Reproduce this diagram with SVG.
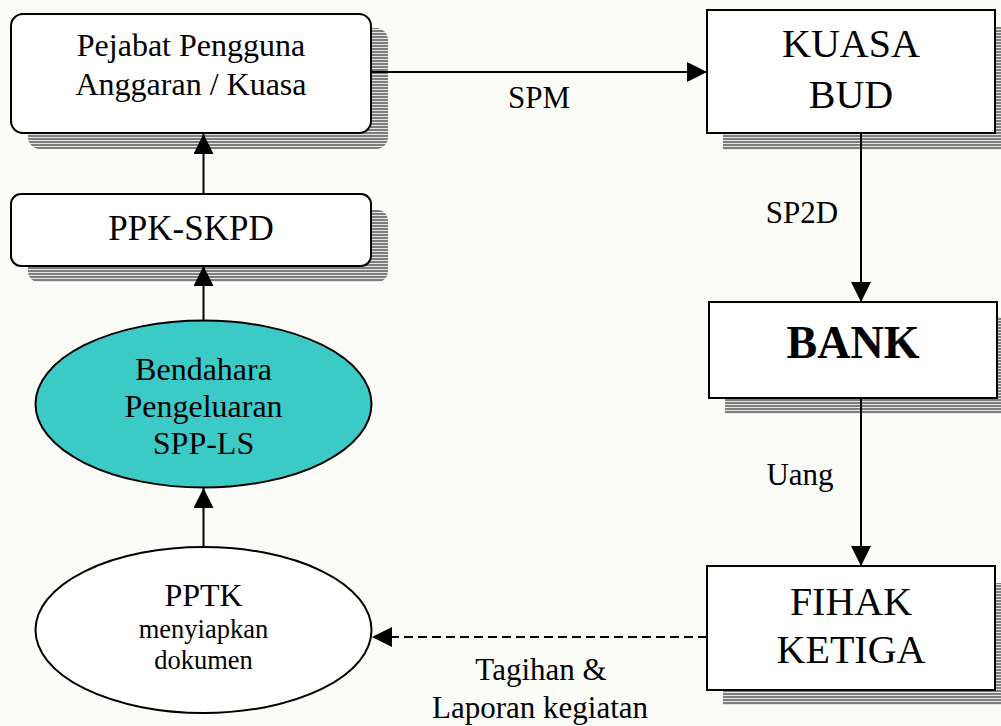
<svg xmlns="http://www.w3.org/2000/svg" width="1001" height="726" viewBox="0 0 1001 726">
<defs>
<pattern id="stripes" patternUnits="userSpaceOnUse" width="6" height="3">
<rect width="6" height="3" fill="#e6e6e6"/>
<rect width="6" height="2" fill="#7d7d7d"/>
</pattern>
<marker id="ah" markerUnits="userSpaceOnUse" markerWidth="22" markerHeight="22" refX="20" refY="10" orient="auto">
<path d="M0,0 L20,10 L0,20 Z" fill="#000"/>
</marker>
<style>
.box{fill:#fff;stroke:#000;stroke-width:2}
.shadow{fill:url(#stripes)}
.t{font-family:"Liberation Serif","Times New Roman",serif;fill:#000;text-anchor:middle}
.c{stroke:#000;stroke-width:2;fill:none}
</style>
</defs>
<rect width="1001" height="726" fill="#fbfcf7"/>

<g id="pejabat">
<rect class="shadow" x="28" y="28" width="360" height="121" rx="12"/>
<rect class="box" x="11" y="14" width="360" height="119" rx="12"/>
<text class="t" x="191" y="56" font-size="32">Pejabat Pengguna</text>
<text class="t" x="191" y="95" font-size="32">Anggaran / Kuasa</text>
</g>

<g id="ppk">
<rect class="shadow" x="28" y="210" width="360" height="72" rx="10"/>
<rect class="box" x="11" y="194" width="360" height="72" rx="10"/>
<text class="t" x="191" y="240" font-size="35">PPK-SKPD</text>
</g>

<g id="bendahara">
<ellipse cx="203.5" cy="404" rx="168" ry="83.5" fill="#3bcac6" stroke="#000" stroke-width="2"/>
<text class="t" x="203.5" y="380" font-size="32">Bendahara</text>
<text class="t" x="203.5" y="417" font-size="32">Pengeluaran</text>
<text class="t" x="203.5" y="454" font-size="32">SPP-LS</text>
</g>

<g id="pptk">
<ellipse cx="203.5" cy="630" rx="168" ry="83" fill="#fff" stroke="#000" stroke-width="2"/>
<text class="t" x="203.5" y="606" font-size="32">PPTK</text>
<text class="t" x="203.5" y="638" font-size="26.5">menyiapkan</text>
<text class="t" x="203.5" y="669" font-size="26.5">dokumen</text>
</g>

<g id="kuasa">
<rect class="shadow" x="723" y="27" width="280" height="123"/>
<rect class="box" x="707" y="10" width="288" height="123"/>
<text class="t" x="851" y="57" font-size="40">KUASA</text>
<text class="t" x="851" y="108" font-size="40">BUD</text>
</g>

<g id="bank">
<rect class="shadow" x="725" y="317" width="278" height="97"/>
<rect class="box" x="709" y="302" width="288" height="96"/>
<text class="t" x="853" y="358" font-size="46" font-weight="bold">BANK</text>
</g>

<g id="fihak">
<rect class="shadow" x="723" y="583" width="280" height="122"/>
<rect class="box" x="707" y="566" width="288" height="124"/>
<text class="t" x="851" y="615" font-size="40">FIHAK</text>
<text class="t" x="851" y="663" font-size="40">KETIGA</text>
</g>

<g id="connectors">
<line class="c" x1="371" y1="72" x2="707" y2="72" marker-end="url(#ah)"/>
<line class="c" x1="861" y1="133" x2="861" y2="302" marker-end="url(#ah)"/>
<line class="c" x1="861" y1="398" x2="861" y2="566" marker-end="url(#ah)"/>
<line class="c" x1="707" y1="637" x2="372" y2="637" stroke-dasharray="9 5" marker-end="url(#ah)"/>
<line class="c" x1="203.5" y1="194" x2="203.5" y2="134" marker-end="url(#ah)"/>
<line class="c" x1="203.5" y1="320" x2="203.5" y2="266" marker-end="url(#ah)"/>
<line class="c" x1="203.5" y1="546" x2="203.5" y2="488" marker-end="url(#ah)"/>
<text class="t" x="539" y="108" font-size="31">SPM</text>
<text class="t" x="802" y="223" font-size="31">SP2D</text>
<text class="t" x="800" y="485" font-size="31">Uang</text>
<text class="t" x="541" y="680" font-size="31">Tagihan &amp;</text>
<text class="t" x="540" y="718" font-size="31">Laporan kegiatan</text>
</g>
</svg>
